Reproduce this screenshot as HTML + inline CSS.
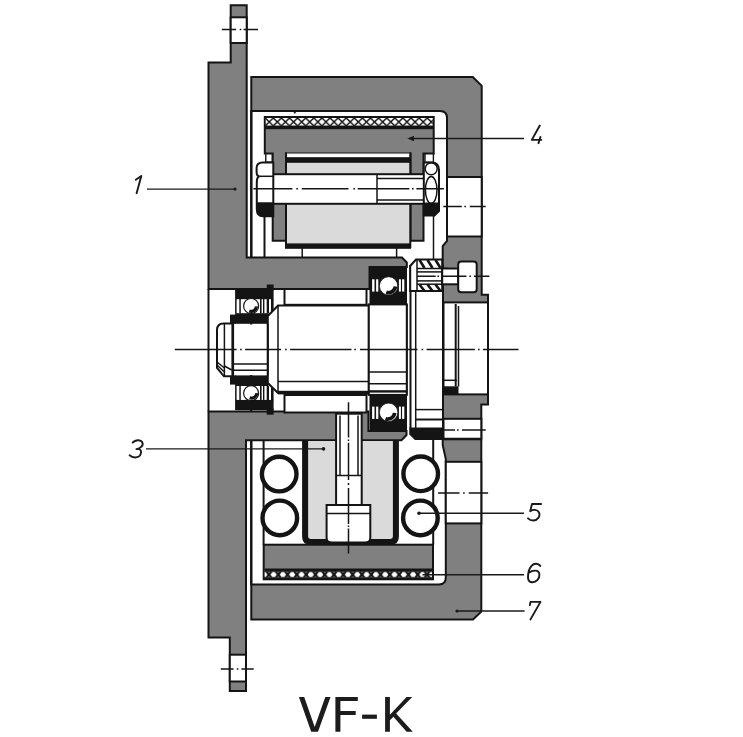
<!DOCTYPE html>
<html><head><meta charset="utf-8"><style>
html,body{margin:0;padding:0;background:#fff;width:743px;height:737px;overflow:hidden}
svg{display:block}
.h{fill:#808080;stroke:#141414;stroke-width:2}
.w{fill:#fff;stroke:#141414;stroke-width:2}
.w1{fill:#fff;stroke:#141414;stroke-width:1.4}
.l{fill:#dadada;stroke:none}
.k{fill:#141414;stroke:none}
.ln{fill:none;stroke:#141414;stroke-width:2}
.tn{fill:none;stroke:#141414;stroke-width:1.5}
.cl{fill:none;stroke:#141414;stroke-width:1.5;stroke-dasharray:38 2.5 2 2.5}
</style></head><body>
<svg width="743" height="737" viewBox="0 0 743 737">
<defs>
<pattern id="dia4" x="265.2" y="118" width="8.1" height="7.8" patternUnits="userSpaceOnUse">
<rect width="8.1" height="7.8" fill="#fff"/>
<path d="M0,0 L8.1,7.8 M8.1,0 L0,7.8" stroke="#141414" stroke-width="1.5"/>
</pattern>
<pattern id="dia6" x="264.3" y="571.8" width="9.3" height="5.6" patternUnits="userSpaceOnUse">
<rect width="9.3" height="5.6" fill="#141414"/>
<path d="M-3.25,2.8 L-1.2,0.3 H1.2 L3.25,2.8 L1.2,5.3 H-1.2 Z M6.05,2.8 L8.1,0.3 H10.5 L12.55,2.8 L10.5,5.3 H8.1 Z M3.9,0 H5.4 L4.65,0.9 Z M3.9,5.6 H5.4 L4.65,4.7 Z" fill="#fff"/>
</pattern>
<!-- right bearing (upper orientation) -->
<g id="brR">
<rect class="k" x="369.5" y="267.2" width="37.5" height="37.3"/>
<g fill="#fff">
<rect x="372.1" y="279.3" width="2.4" height="12.3"/>
<rect x="376.1" y="279.3" width="2.2" height="12.3"/>
<rect x="398.9" y="279.3" width="2" height="12.3"/>
<rect x="402.1" y="279.3" width="2.2" height="12.3"/>
</g>
<circle cx="388.6" cy="285.9" r="9.2" fill="#fff" stroke="#141414" stroke-width="0.8"/>
</g>
<!-- left bearing (upper orientation) -->
<g id="brL">
<rect class="k" x="235.1" y="289" width="38.5" height="10.5"/>
<rect class="k" x="266.7" y="284.5" width="6.9" height="6"/>
<rect fill="#fff" x="236.5" y="299.4" width="35.6" height="13.9"/>
<g class="k">
<rect x="235.1" y="299" width="1.5" height="14.5"/>
<rect x="239.3" y="299" width="1.5" height="14.5"/>
<rect x="260" y="299" width="1.6" height="14.5"/>
<rect x="263" y="299" width="1.4" height="14.5"/>
<rect x="266.7" y="299" width="2.3" height="14.5"/>
<rect x="271" y="299" width="2.6" height="14.5"/>
</g>
<circle cx="251.1" cy="306" r="7.5" fill="#fff" stroke="#141414" stroke-width="1.2"/>
<rect class="k" x="235.1" y="313.2" width="33.1" height="10.6"/>
<rect class="k" x="230" y="314.6" width="6" height="9.2"/>
</g>
</defs>

<!-- ===== housing (7) ===== -->
<path class="h" d="M251.3,77 H472.8 L481.7,85.8 V294.8 H488 V404.5 H481.3 V611.6 L473,619.5 H251.3 Z"/>
<!-- cavity -->
<path class="w" d="M251.3,111 H440 Q447,111 447,118 V241 L442.7,246 V445 L445.8,459 V577.5 Q445.8,584.4 439,584.4 H251.3 Z"/>
<!-- holes in right wall -->
<rect class="w" x="447" y="177" width="34.7" height="59.5"/>
<rect class="w" x="443.5" y="418.8" width="37.8" height="20.5"/>
<line class="ln" x1="443.5" y1="438.8" x2="481.3" y2="438.8"/>
<rect class="w" x="445.8" y="461.8" width="35.5" height="61.6"/>
<!-- cap (end) -->
<rect class="w" x="443.5" y="302.4" width="44.5" height="92"/>
<line class="ln" x1="455.7" y1="304" x2="455.7" y2="386.5"/>
<line class="tn" x1="458.5" y1="306" x2="458.5" y2="386.5"/>
<line class="tn" x1="443.5" y1="380.3" x2="457" y2="380.3"/>
<rect class="k" x="443.5" y="386.3" width="15" height="8.5"/>

<!-- ===== flange (1) ===== -->
<path class="h" d="M230.7,5.2 H246.7 V257.5 H402 L406.8,262.5 V267 H369.5 V289 H208.5 V62.5 H230.7 Z"/>
<path class="h" d="M208.5,411.5 H368.4 V431 H406.5 V435 L401.5,440.3 H246 V691 H229.8 V637.5 H208.5 Z"/>
<rect class="w" x="230.7" y="17.3" width="16" height="25.7"/>
<rect class="w" x="229.8" y="654.7" width="16.2" height="26.8"/>
<line class="ln" x1="208.5" y1="289" x2="208.5" y2="411.5"/>

<!-- ===== part 4 (upper ring) ===== -->
<path class="h" d="M264.8,117 H433.7 V153.4 H423.5 V240.8 H410.5 V153.4 H286 V240.8 H272.7 V153.4 H264.8 Z"/>
<rect x="265.8" y="118" width="166.9" height="7.8" fill="url(#dia4)"/>
<rect class="k" x="264.8" y="125.6" width="168.9" height="3.6"/>
<!-- cylinder -->
<rect class="l" x="286" y="153.4" width="124.3" height="95"/>
<rect fill="#fff" x="287" y="154.3" width="122.3" height="3"/>
<rect class="k" x="286" y="157.2" width="124.3" height="5.6"/>
<rect class="k" x="285" y="243.4" width="126" height="5.4"/>
<line class="ln" x1="286" y1="152.5" x2="286" y2="248"/>
<line class="ln" x1="410.3" y1="152.5" x2="410.3" y2="248"/>
<line class="ln" x1="264.5" y1="216" x2="264.5" y2="257.5"/>
<line class="ln" x1="251.4" y1="111" x2="251.4" y2="257.5"/>
<line class="tn" x1="302.2" y1="248" x2="302.2" y2="257.5"/>
<line class="tn" x1="396.6" y1="248" x2="396.6" y2="257.5"/>
<line class="tn" x1="433.5" y1="215" x2="433.5" y2="260"/>
<!-- bolt -->
<rect class="w" x="262" y="174.2" width="172" height="29.6"/>
<line class="tn" x1="377" y1="174.2" x2="377" y2="203.8"/>
<line class="tn" x1="377" y1="178.4" x2="424" y2="178.4"/>
<line class="tn" x1="377" y1="200" x2="424" y2="200"/>
<!-- washers -->
<rect class="w1" x="265.8" y="153.8" width="6.4" height="8.4"/>
<rect class="w1" x="425" y="153.8" width="8.4" height="8.6"/>
<!-- left nut -->
<path class="w" d="M273.3,162.4 H262.5 Q256.6,162.4 256.6,168 V172 Q256.6,176.3 259.5,176.3 Q256.8,177.3 256.8,182 V209 Q256.8,216.3 263,216.3 H273.3 Z"/>
<path class="k" d="M256.8,202.3 H273.3 V216.3 H263 Q256.8,216.3 256.8,209 Z"/>
<line class="tn" x1="259.5" y1="176.3" x2="273.3" y2="176.3"/>
<!-- right nut -->
<path class="w" d="M423.8,162.4 V215.6 H434.5 L439,211 V170 Q439,162.4 431.6,162.4 Z"/>
<path class="k" d="M423.8,202.5 H439 V211 L434.5,215.6 H423.8 Z"/>
<circle class="tn" cx="431.2" cy="168.8" r="6"/>
<ellipse class="tn" cx="431.2" cy="190" rx="5.8" ry="13.5"/>

<!-- ===== shaft area ===== -->
<!-- spacers -->
<rect class="w" x="284.5" y="289" width="82" height="15.8"/>
<rect class="w" x="284.5" y="395" width="82" height="17.5"/>
<!-- bearings -->
<use href="#brL"/>
<use href="#brL" transform="matrix(1,0,0,-1,0,699.2)"/>
<use href="#brR"/>
<use href="#brR" transform="matrix(1,0,0,-1,0,698.2)"/>
<g class="k">
<path d="M397.2,286.65 A8.6,8.6 0 0 1 385.66,293.98 L386.89,290.6 A5,5 0 0 0 393.58,286.34 Z"/>
<path transform="translate(-0.8,126.4)" d="M397.2,286.65 A8.6,8.6 0 0 1 385.66,293.98 L386.89,290.6 A5,5 0 0 0 393.58,286.34 Z"/>
<path d="M258.07,306.61 A7,7 0 0 1 248.71,312.58 L249.8,309.57 A3.8,3.8 0 0 0 254.89,306.33 Z"/>
<path transform="translate(0.4,86.7)" d="M258.07,306.61 A7,7 0 0 1 248.71,312.58 L249.8,309.57 A3.8,3.8 0 0 0 254.89,306.33 Z"/>
</g>
<!-- shaft body -->
<path class="w" d="M267.8,316 L278,305.6 H368.8 V393 H278 L267.8,383 Z"/>
<rect class="k" x="278" y="390.8" width="90.8" height="3.6"/>
<line class="tn" x1="278" y1="381.6" x2="368.8" y2="381.6"/>
<line class="tn" x1="278" y1="305.6" x2="278" y2="393"/>
<rect class="w" x="368.8" y="304.4" width="38" height="90.5"/>
<line class="tn" x1="368.8" y1="372" x2="406.8" y2="372"/>
<line class="tn" x1="368.8" y1="383.7" x2="406.8" y2="383.7"/>
<rect class="k" x="368.8" y="390.2" width="38" height="2.4"/>
<!-- bearing bore region -->
<rect fill="#fff" x="235" y="324.5" width="32.5" height="50.5"/>
<line class="ln" x1="267.7" y1="323.8" x2="267.7" y2="375.4"/>
<line class="tn" x1="232.8" y1="364" x2="267.7" y2="364"/>
<line class="tn" x1="232.8" y1="370.3" x2="267.7" y2="370.3"/>
<!-- left nut (shaft end) -->
<path class="w" d="M223.5,323.4 H232.8 V376.3 H224 L217,368 V330 Q217,323.4 223.5,323.4 Z"/>
<line class="tn" x1="224.4" y1="323.4" x2="224.4" y2="376.3"/>
<line x1="232.8" y1="323.4" x2="232.8" y2="376.3" stroke="#141414" stroke-width="2.6"/>
<path class="tn" d="M217,362 L224.4,368 M224.4,366 L231.8,370 M217,365 L224.4,372"/>
<!-- collar right -->
<path class="w" d="M410.5,266 H443 V439 H415.5 L410.5,434 Z"/>
<line class="tn" x1="415.7" y1="266" x2="415.7" y2="438"/>
<line class="tn" x1="406.8" y1="304" x2="406.8" y2="394"/>
<path class="k" d="M409.5,427.5 H443.5 V440 H415.2 L409.5,434.3 Z"/>
<line class="tn" x1="415.7" y1="409.6" x2="443" y2="409.6"/>
<line class="ln" x1="415.7" y1="419.5" x2="443" y2="419.5"/>
<!-- set screw -->
<path class="w" d="M416,259.6 H442.2 V291 H410.2 V266 Z"/>
<g class="tn">
<line x1="417" y1="268.5" x2="448" y2="268.5"/>
<line x1="417" y1="271.9" x2="448" y2="271.9"/>
<line x1="417" y1="280.9" x2="448" y2="280.9"/>
<line x1="417" y1="284.2" x2="448" y2="284.2"/>
<line x1="417" y1="260" x2="417" y2="291"/>
</g>
<g stroke="#141414" stroke-width="2.6">
<line x1="419.5" y1="260" x2="424.5" y2="268"/><line x1="427.5" y1="260" x2="432.5" y2="268"/><line x1="435.5" y1="260" x2="440.5" y2="268"/>
<line x1="419.5" y1="284.5" x2="424.5" y2="291"/><line x1="427.5" y1="284.5" x2="432.5" y2="291"/><line x1="435.5" y1="284.5" x2="440.5" y2="291"/>
</g>
<rect class="w" x="442.2" y="268.5" width="16" height="15.8"/>
<rect class="w" x="458.2" y="261.5" width="18.5" height="30.7" rx="3"/>

<!-- ===== lower parts ===== -->
<!-- ring 6 -->
<rect class="h" x="263.7" y="544.7" width="169.3" height="34.6"/>
<rect class="k" x="264.7" y="568.5" width="167.3" height="3.3"/>
<rect x="264.7" y="571.8" width="167.3" height="5.6" fill="url(#dia6)"/>
<rect class="k" x="263.7" y="577.4" width="169.3" height="2.4"/>
<!-- carrier -->
<path d="M305.1,441 V536.5 Q305.1,541.9 310.5,541.9 H390.5 Q395.9,541.9 395.9,536.5 V441 Z" fill="#dadada"/>
<path d="M305.1,441 V536.5 Q305.1,541.9 310.5,541.9 H390.5 Q395.9,541.9 395.9,536.5 V441" fill="none" stroke="#141414" stroke-width="6"/>
<!-- screw -->
<rect class="w" x="336.1" y="413.7" width="25.6" height="91.3"/>
<line class="tn" x1="340" y1="415.6" x2="340" y2="475.5"/>
<line class="tn" x1="358" y1="415.6" x2="358" y2="475.5"/>
<line class="tn" x1="336.1" y1="475.5" x2="361.7" y2="475.5"/>
<path class="w" d="M326.6,505 H370.3 V538 Q370.3,542.5 365,542.5 H332 Q326.6,542.5 326.6,538 Z"/>
<line class="tn" x1="326.6" y1="513.5" x2="370.3" y2="513.5"/>
<!-- rollers -->
<line class="ln" x1="263.6" y1="440.3" x2="263.6" y2="544.7"/>
<line class="ln" x1="433.2" y1="439.5" x2="433.2" y2="544.7"/>

<g fill="#fff" stroke="#141414" stroke-width="4.4">
<circle cx="279.2" cy="474.1" r="17.3"/>
<circle cx="279.8" cy="517.9" r="17.3"/>
<circle cx="420.7" cy="473.8" r="17.3"/>
<circle cx="420.4" cy="517.9" r="17.3"/>
</g>
<line class="ln" x1="251.3" y1="440.3" x2="251.3" y2="584.4"/>

<!-- ===== centre lines ===== -->
<path class="tn" d="M174.8,349.6 H236.6 M240.1,349.6 H241.7 M245.1,349.6 H281 M285.1,349.6 H286.7 M290.1,349.6 H351.5 M354.3,349.6 H355.9 M360,349.6 H417.5 M421.6,349.6 H423.2 M426.6,349.6 H474.8 M478,349.6 H479.6 M482.9,349.6 H518.5"/>
<path class="tn" d="M221.8,29.5 H236.1 M239.7,29.5 H241.3 M243.5,29.5 H258"/>
<path class="tn" d="M220.8,668.9 H233.5 M236.8,668.9 H238.4 M241.4,668.9 H253.7"/>
<path class="tn" d="M253.4,188.7 H292.4 M296.3,188.7 H297.9 M301.8,188.7 H348.5 M353.4,188.7 H355 M357.7,188.7 H409.3 M412,188.7 H413.6 M416.4,188.7 H443.9"/>
<path class="tn" d="M443.3,206.6 H461.8 M464.4,206.6 H466 M469.8,206.6 H485.7"/>
<path class="tn" d="M417,276.3 H435.7 M437.4,276.3 H439 M442.1,276.3 H466.4 M469.4,276.3 H471 M474,276.3 H489.4"/>
<path class="tn" d="M443.7,430.1 H455 M457,430.1 H458.6 M461.9,430.1 H485.7"/>
<path class="tn" d="M438.1,492.9 H459.5 M463.1,492.9 H464.7 M468.8,492.9 H488.1"/>
<path class="tn" d="M348.5,402.3 V437.5 M348.5,439.5 V441 M348.5,442.8 V480 M348.5,483 V485 M348.5,488 V524 M348.5,525.5 V527 M348.5,528.5 V553.5"/>

<!-- ===== leaders & labels ===== -->
<g stroke="#1a1a1a" stroke-width="1.4">
<line x1="147" y1="189.1" x2="235" y2="189.1"/>
<line x1="146" y1="448.9" x2="323.5" y2="448.9"/>
<line x1="410" y1="138.5" x2="524" y2="138.5"/>
<line x1="419" y1="513.3" x2="524" y2="513.3"/>
<line x1="422.5" y1="574.7" x2="524" y2="574.7"/>
<line x1="457" y1="611" x2="524.6" y2="611"/>
</g>
<g fill="#1a1a1a">
<circle cx="235" cy="189.1" r="1.6"/>
<circle cx="323.5" cy="448.9" r="1.8"/>
<path d="M407.3,138.5 L414,135.8 L414,141.2 Z"/>
<path d="M293,111.5 L296.5,111.5 L294.8,114 Z"/>
<circle cx="419" cy="513.3" r="1.8"/>
<circle cx="457" cy="611" r="1.6"/>
</g>
<g fill="none" stroke="#1a1a1a" stroke-width="1.9" stroke-linecap="round" stroke-linejoin="round">
<path d="M141.3,175.9 L136.6,193.2 M141.3,175.9 L135.8,179.8"/>
<path d="M132.7,442.5 C135,440.3 140.5,438.8 142.3,442.3 C143.8,445.5 140.5,448.6 136.4,449.1 H138.9 C141,449.5 141.6,451.5 140.6,454.3 C139.4,457.8 133.5,458.8 129.6,455.3"/>
<path d="M539.8,125.5 L531.8,139.9 H541.3 M540.4,136.9 L538.5,143.2"/>
<path d="M541.1,504 H532 L530.2,511.2 C533,509.3 537.5,509.2 539,512.5 C540.6,516.2 537.5,520.6 533.2,520.5 C530.8,520.4 529,519.3 528,518.3"/>
<path d="M540.3,565.9 C538.5,563.2 534,562.8 531.5,565.8 C529,568.8 528,573.5 528,577.5 C528,581 530,582.5 532.5,582.3 C536.5,582 539.6,578.5 539.4,574.8 C539.2,571.8 537,570.5 535,570.6 C532.5,570.7 530.5,571.5 529.7,572.3"/>
<path d="M529.9,605.1 L530.5,601.9 H540.5 L530.5,619.4"/>
</g>
<g fill="#1c1c1c">
<path d="M298.9,697.1 H304.2 L314.7,727 L325.3,697.1 H330.5 L318,731.7 H311.2 Z"/>
<path d="M335.4,697.1 H357.8 V701 H340.4 V711.1 H355.7 V715 H340.4 V731.7 H335.4 Z"/>
<rect x="362.1" y="714.6" width="14.8" height="4.2"/>
<path d="M385.1,697.1 H389.9 V714.8 L406.6,697.1 H412.2 L396.1,713.5 L412.8,731.7 H406.6 L393.4,716.8 L389.9,720.3 V731.7 H385.1 Z"/>
</g>
</svg>
</body></html>
